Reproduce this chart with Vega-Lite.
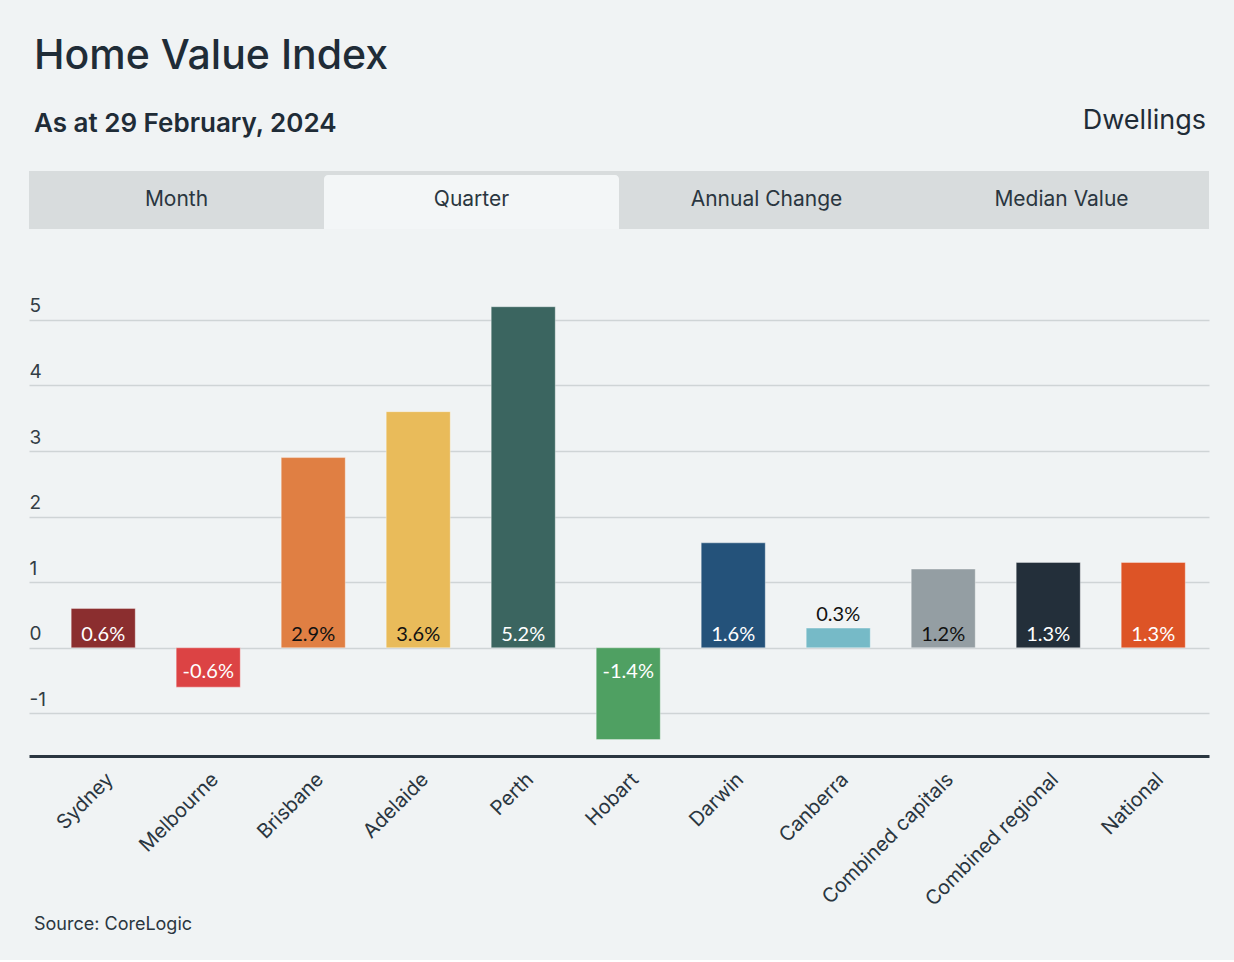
{
  "$schema": "https://vega.github.io/schema/vega-lite/v6.json",
  "background": "#f0f3f4",
  "padding": {"left": 29, "right": 25, "top": 36, "bottom": 25},
  "title": {"text": "Home Value Index", "anchor": "start", "fontSize": 41, "fontWeight": 500, "color": "#1f2c37", "font": "Inter", "dx": 5, "offset": 21},
  "spacing": 22,
  "config": {"view": {"stroke": null}, "font": "Inter"},
  "vconcat": [
    {
      "width": 1180,
      "height": 50,
      "data": {"values": [
        {"label": "As at 29 February, 2024", "side": "left"},
        {"label": "Dwellings", "side": "right"}
      ]},
      "encoding": {
        "x": {"field": "side", "type": "nominal", "scale": {"type": "point", "domain": ["left", "right"], "padding": 0}, "axis": null},
        "text": {"field": "label"}
      },
      "layer": [
        {"transform": [{"filter": "datum.side === 'left'"}], "mark": {"type": "text", "align": "left", "fontSize": 26, "fontWeight": 600, "color": "#1f2c37", "dx": 5}},
        {"transform": [{"filter": "datum.side === 'right'"}], "mark": {"type": "text", "align": "right", "fontSize": 27, "fontWeight": 400, "color": "#1f2c37", "dx": -3, "dy": -3}}
      ]
    },
    {
      "width": 1180,
      "height": 58,
      "data": {"values": [
        {"tab": "Month", "active": false},
        {"tab": "Quarter", "active": true},
        {"tab": "Annual Change", "active": false},
        {"tab": "Median Value", "active": false}
      ]},
      "encoding": {
        "x": {"field": "tab", "type": "nominal", "sort": null, "scale": {"paddingInner": 0, "paddingOuter": 0}, "axis": null}
      },
      "layer": [
        {"mark": {"type": "rect", "color": "#d8dcdd"}},
        {"transform": [{"filter": "datum.active"}], "mark": {"type": "rect", "color": "#f3f6f7", "y": 4, "y2": "height", "cornerRadiusTopLeft": 4, "cornerRadiusTopRight": 4}},
        {"mark": {"type": "text", "fontSize": 21, "color": "#2a3640"}, "encoding": {"text": {"field": "tab"}}}
      ]
    },
    {
      "width": 1180,
      "height": 505,
      "data": {"values": [
        {"region": "Sydney", "value": 0.6, "label": "0.6%"},
        {"region": "Melbourne", "value": -0.6, "label": "-0.6%"},
        {"region": "Brisbane", "value": 2.9, "label": "2.9%"},
        {"region": "Adelaide", "value": 3.6, "label": "3.6%"},
        {"region": "Perth", "value": 5.2, "label": "5.2%"},
        {"region": "Hobart", "value": -1.4, "label": "-1.4%"},
        {"region": "Darwin", "value": 1.6, "label": "1.6%"},
        {"region": "Canberra", "value": 0.3, "label": "0.3%"},
        {"region": "Combined capitals", "value": 1.2, "label": "1.2%"},
        {"region": "Combined regional", "value": 1.3, "label": "1.3%"},
        {"region": "National", "value": 1.3, "label": "1.3%"}
      ]},
      "title": {"text": "Source: CoreLogic", "orient": "bottom", "anchor": "start", "fontSize": 18, "fontWeight": 400, "color": "#2a3640", "dx": 5, "offset": 7},
      "encoding": {
        "x": {
          "field": "region", "type": "nominal", "sort": null,
          "scale": {"paddingInner": 0.39, "paddingOuter": 0.314, "align": 0.64},
          "axis": {"title": null, "labelAngle": -45, "labelFontSize": 20, "labelColor": "#2a3640", "domainColor": "#2a3640", "domainWidth": 3, "ticks": false, "labelPadding": 13}
        }
      },
      "layer": [
        {
          "mark": {"type": "bar", "stroke": "#ffffff", "strokeOpacity": 0.35, "strokeWidth": 1},
          "encoding": {
            "y": {
              "field": "value", "type": "quantitative",
              "scale": {"domain": [-1.65, 6.05], "nice": false},
              "axis": {"values": [-1, 0, 1, 2, 3, 4, 5], "labelExpr": "'' + datum.value", "grid": true, "gridColor": "#cfd4d6", "gridWidth": 1.5, "domain": false, "ticks": false, "tickSize": 0, "labelAlign": "left", "labelBaseline": "alphabetic", "labelPadding": 0, "labelOffset": -8, "labelFontSize": 19, "labelColor": "#333d45", "title": null, "minExtent": 0}
            },
            "color": {
              "field": "region", "type": "nominal", "sort": null, "legend": null,
              "scale": {
                "domain": ["Sydney", "Melbourne", "Brisbane", "Adelaide", "Perth", "Hobart", "Darwin", "Canberra", "Combined capitals", "Combined regional", "National"],
                "range": ["#8b2e2f", "#dc4344", "#e07f43", "#e9bb5a", "#3b6560", "#4fa062", "#24527a", "#76bac7", "#949ea3", "#232f3a", "#dd5426"]
              }
            }
          }
        },
        {
          "transform": [{"filter": "datum.value >= 0.5"}],
          "mark": {"type": "text", "baseline": "alphabetic", "dy": -7, "fontSize": 20, "font": "Lato"},
          "encoding": {
            "y": {"datum": 0, "type": "quantitative"},
            "text": {"field": "label"},
            "color": {"condition": {"test": "indexof(['Brisbane','Adelaide','Canberra','Combined capitals'], datum.region) >= 0", "value": "#111111"}, "value": "#ffffff"}
          }
        },
        {
          "transform": [{"filter": "datum.value < 0"}],
          "mark": {"type": "text", "baseline": "alphabetic", "dy": 30, "fontSize": 20, "font": "Lato", "color": "#ffffff"},
          "encoding": {
            "y": {"datum": 0, "type": "quantitative"},
            "text": {"field": "label"}
          }
        },
        {
          "transform": [{"filter": "datum.value > 0 && datum.value < 0.5"}],
          "mark": {"type": "text", "baseline": "alphabetic", "dy": -7, "fontSize": 20, "font": "Lato", "color": "#111111"},
          "encoding": {
            "y": {"field": "value", "type": "quantitative"},
            "text": {"field": "label"}
          }
        }
      ]
    }
  ]
}
